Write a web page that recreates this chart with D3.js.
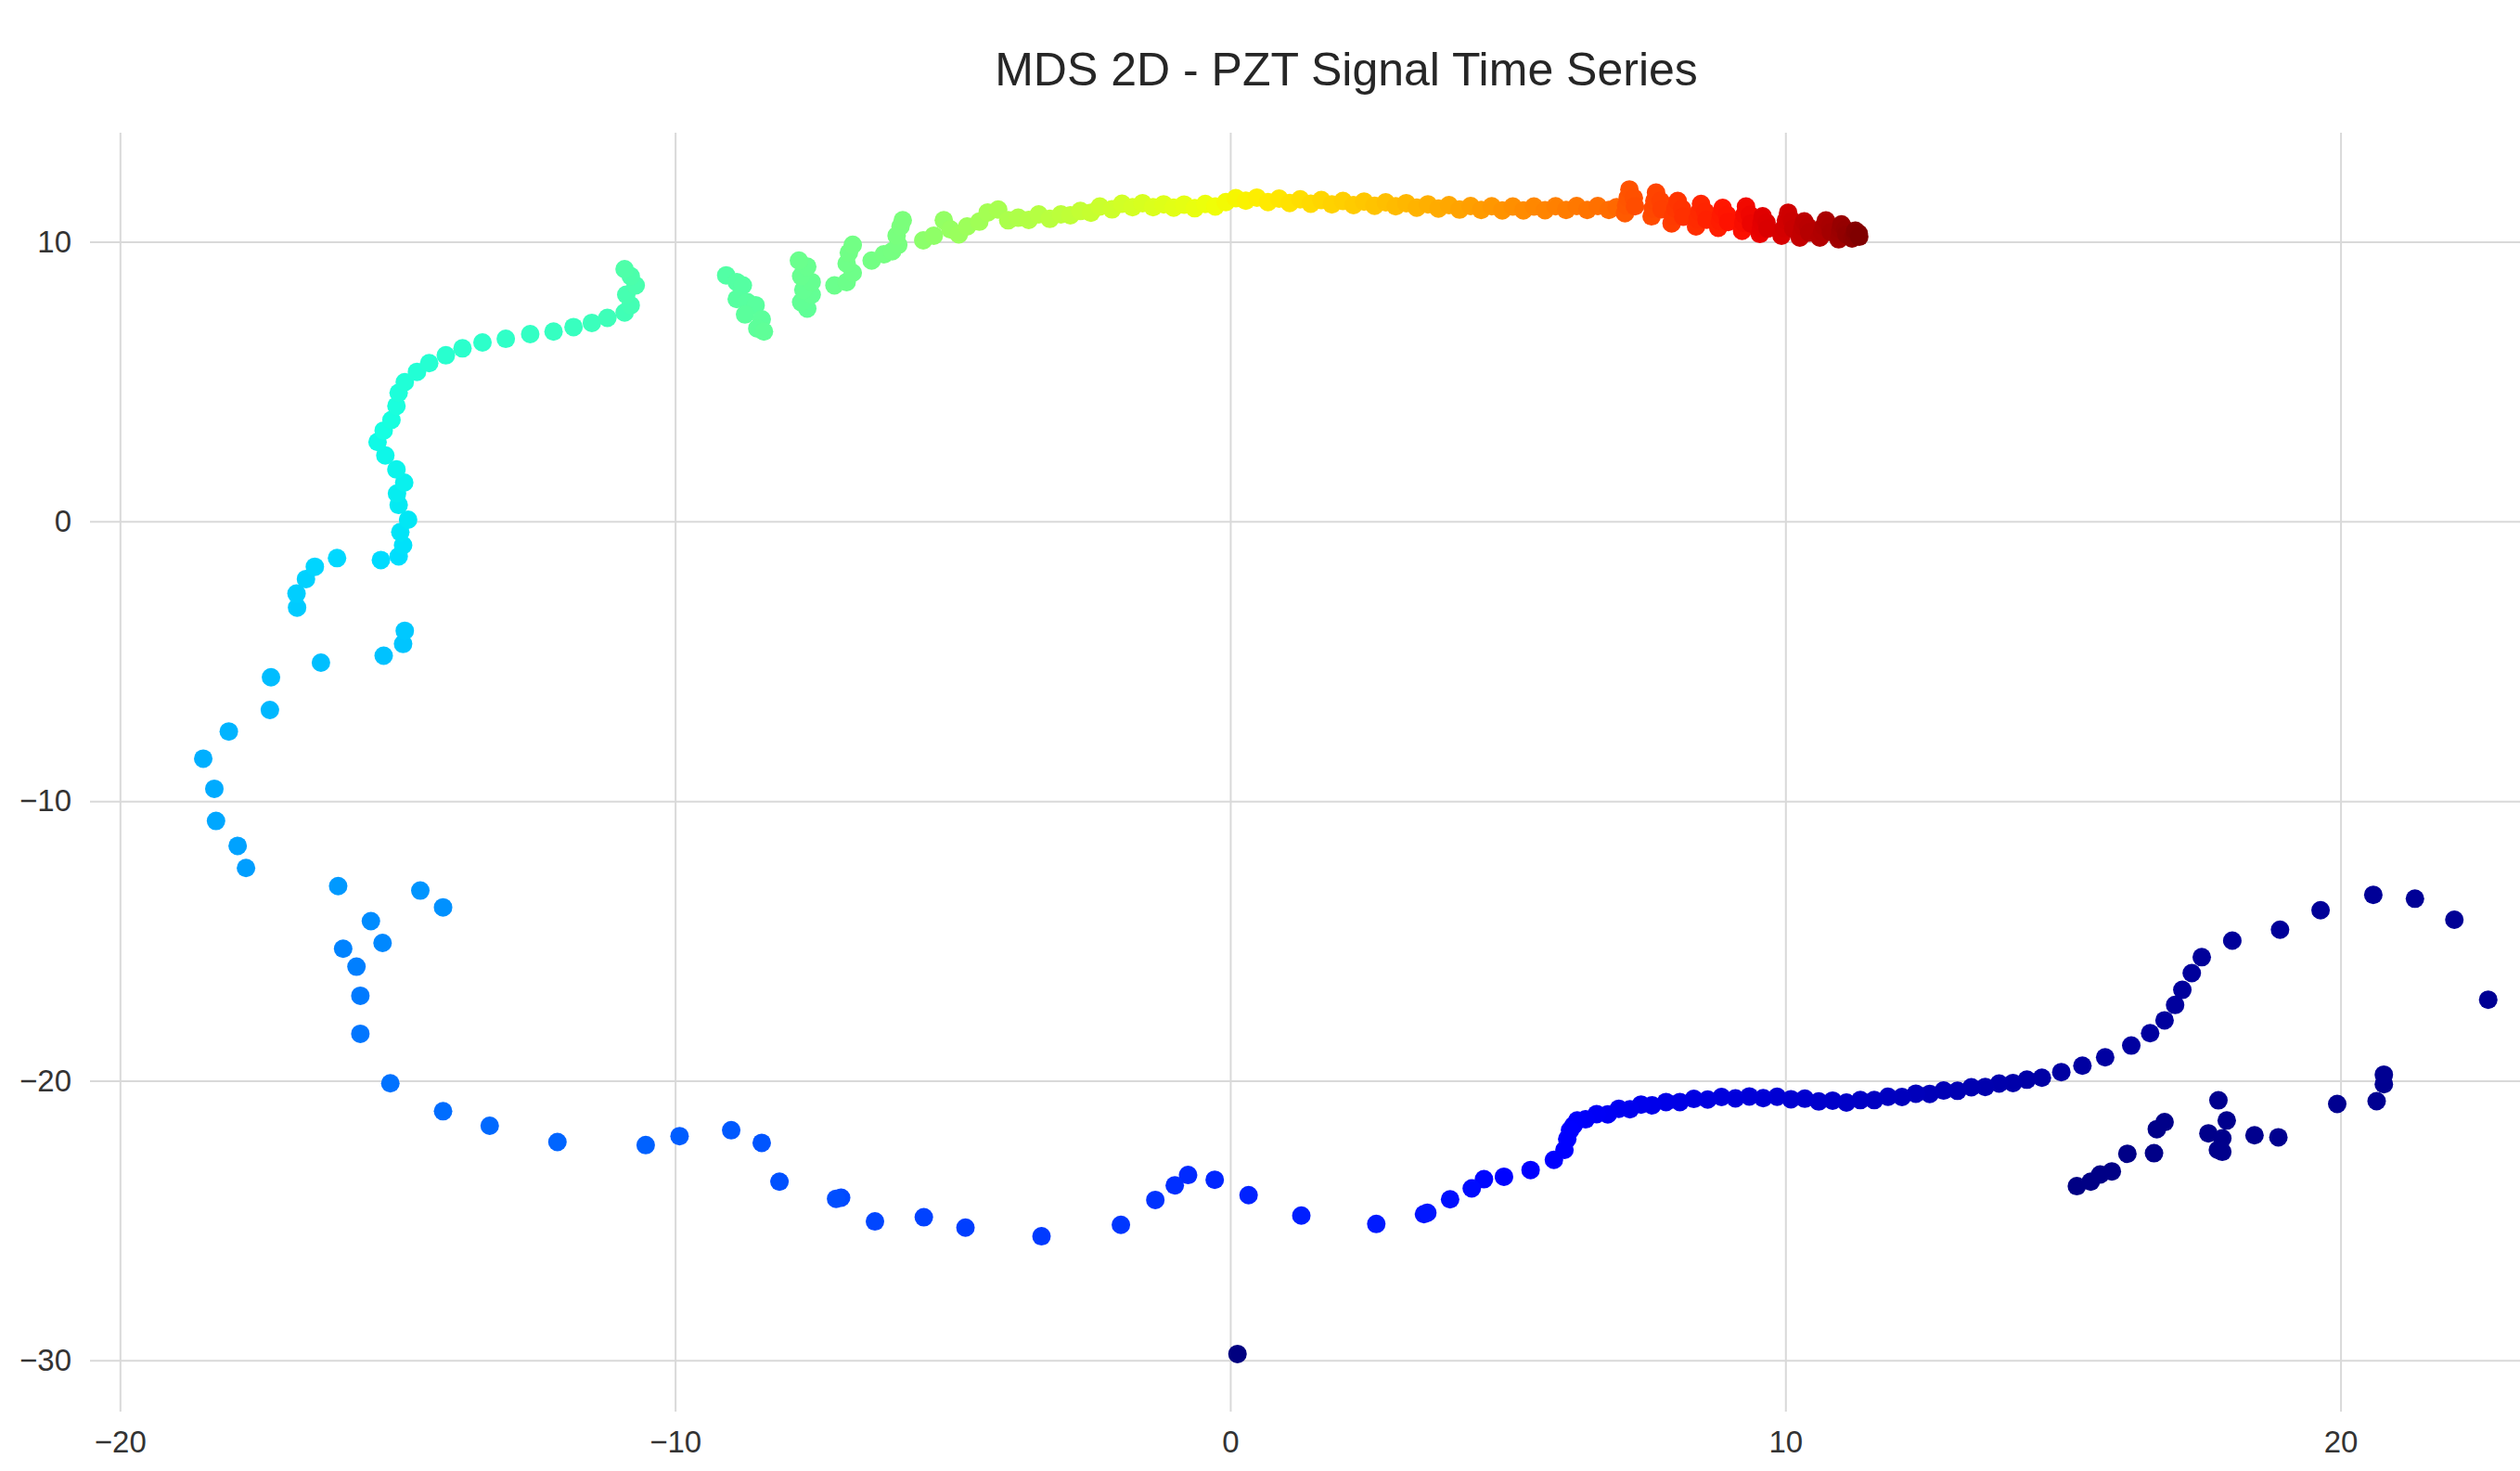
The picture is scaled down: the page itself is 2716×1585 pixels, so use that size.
<!DOCTYPE html>
<html><head><meta charset="utf-8">
<script src="https://cdn.jsdelivr.net/npm/d3@7"></script>
<style>body{margin:0;background:#fff}svg{display:block}</style>
</head><body>
<script>
// ---------------- data ----------------
const chartTitle = "MDS 2D - PZT Signal Time Series";
const xTicks = [-20, -10, 0, 10, 20];
const yTicks = [-30, -20, -10, 0, 10];

// MDS coordinates, in time order, grouped into stretches of the trajectory
const outlier = [[0.13,-29.77]];
const lowerRight = [[15.25,-23.77],[15.50,-23.61],[15.67,-23.35],[15.88,-23.24],[16.16,-22.61],[16.64,-22.59],[16.69,-21.73],[16.83,-21.48],[17.62,-21.88],[17.87,-22.06],[17.79,-22.47],[17.87,-22.54],[17.95,-21.42],[17.80,-20.70],[18.45,-21.95],[18.88,-22.02],[19.94,-20.83],[20.65,-20.73],[20.78,-20.12],[20.78,-19.78]];
const rightArc = [[22.66,-17.10],[22.05,-14.24],[21.34,-13.49],[20.59,-13.35],[19.64,-13.90],[18.91,-14.60],[18.05,-14.99],[17.50,-15.58],[17.32,-16.15],[17.15,-16.75],[17.02,-17.29],[16.83,-17.84],[16.57,-18.30],[16.23,-18.74],[15.76,-19.16],[15.35,-19.46],[14.97,-19.69]];
const band = [[14.62,-19.89],[14.35,-19.96],[14.10,-20.08],[13.85,-20.10],[13.60,-20.22],[13.35,-20.23],[13.10,-20.36],[12.85,-20.35],[12.60,-20.47],[12.35,-20.46],[12.10,-20.58],[11.85,-20.57],[11.60,-20.69],[11.35,-20.69],[11.10,-20.78],[10.85,-20.71],[10.60,-20.74],[10.35,-20.64],[10.10,-20.66],[9.85,-20.57],[9.60,-20.62],[9.35,-20.56],[9.10,-20.63],[8.85,-20.58],[8.60,-20.67],[8.35,-20.65],[8.10,-20.76],[7.85,-20.76],[7.60,-20.88],[7.40,-20.85],[7.20,-21.02],[7.00,-21.00],[6.80,-21.20],[6.60,-21.19],[6.40,-21.38],[6.25,-21.42],[6.18,-21.60],[6.12,-21.77],[6.07,-22.08],[6.02,-22.47]];
const bottom = [[5.83,-22.83],[5.41,-23.19],[4.93,-23.43],[4.57,-23.52],[4.35,-23.85],[3.96,-24.24],[3.49,-24.77],[3.55,-24.72],[2.63,-25.12],[1.28,-24.82],[0.33,-24.09],[-0.28,-23.54],[-0.76,-23.37],[-1.00,-23.74],[-1.35,-24.26],[-1.97,-25.15],[-3.40,-25.56],[-4.77,-25.25],[-5.52,-24.88],[-6.40,-25.03],[-7.01,-24.18],[-7.10,-24.22],[-8.12,-23.61],[-8.44,-22.22],[-8.99,-21.77],[-9.92,-21.98],[-10.53,-22.30],[-12.12,-22.19],[-13.34,-21.61]];
const lowerLeft = [[-14.18,-21.09],[-15.13,-20.09],[-15.67,-18.32],[-15.67,-16.96],[-15.74,-15.92],[-15.98,-15.28],[-15.27,-15.07],[-15.48,-14.29],[-14.18,-13.80],[-14.59,-13.20],[-16.07,-13.04],[-17.73,-12.39],[-17.88,-11.60],[-18.27,-10.71],[-18.30,-9.56],[-18.50,-8.48],[-18.04,-7.51],[-17.30,-6.74],[-17.28,-5.57]];
const leftMid = [[-16.38,-5.05],[-15.25,-4.80],[-14.90,-4.38],[-14.87,-3.91],[-16.81,-3.08],[-16.82,-2.58],[-16.65,-2.06],[-16.49,-1.62],[-16.09,-1.31],[-15.30,-1.38],[-14.98,-1.25],[-14.90,-0.85],[-14.95,-0.38],[-14.81,0.06],[-14.98,0.59],[-15.01,1.00],[-14.88,1.39],[-15.02,1.86],[-15.22,2.36],[-15.36,2.84]];
const leftUpper = [[-15.25,3.25],[-15.11,3.63],[-15.02,4.13],[-14.98,4.60],[-14.87,4.98],[-14.65,5.35],[-14.43,5.66],[-14.13,5.94],[-13.83,6.19],[-13.47,6.40],[-13.05,6.53],[-12.61,6.70],[-12.19,6.79],[-11.83,6.95],[-11.50,7.10],[-11.22,7.28],[-10.91,7.47],[-10.80,7.73],[-10.88,8.11],[-10.71,8.44],[-10.80,8.77],[-10.91,9.02]];
const greenClusters = [[-9.08,8.80],[-8.89,8.56],[-8.78,8.44],[-8.89,7.95],[-8.70,7.84],[-8.55,7.73],[-8.74,7.40],[-8.44,7.23],[-8.52,6.90],[-8.40,6.79],
  [-7.62,7.61],[-7.73,7.84],[-7.54,8.11],[-7.69,8.28],[-7.54,8.56],[-7.73,8.77],[-7.62,9.11],[-7.77,9.33],
  [-7.13,8.44],[-6.91,8.56],[-6.80,8.89],[-6.91,9.22],[-6.87,9.61],[-6.80,9.89],
  [-6.46,9.33],[-6.24,9.55],[-6.09,9.66],[-5.98,9.89],[-6.01,10.22],[-5.94,10.55],[-5.90,10.77]];
const topArc = [[-5.53,10.05],[-5.34,10.22],[-5.16,10.77],[-5.04,10.44],[-4.89,10.27],[-4.74,10.55],[-4.52,10.72],[-4.37,11.05],[-4.18,11.15],[-4.00,10.77],[-3.82,10.86],[-3.63,10.78],[-3.45,10.98],[-3.25,10.82],[-3.05,10.98],[-2.88,10.95],[-2.70,11.10],[-2.51,11.04],[-2.35,11.26],[-2.13,11.16],[-1.95,11.36],[-1.76,11.24],[-1.58,11.38],[-1.39,11.24],[-1.20,11.34],[-1.02,11.22],[-0.83,11.33],[-0.64,11.20],[-0.45,11.35],[-0.27,11.26],
  [-0.08,11.42],[0.10,11.56],[0.28,11.47],[0.48,11.58],[0.68,11.42],[0.88,11.54],[1.07,11.39],[1.26,11.52],[1.45,11.36],[1.64,11.49],[1.83,11.34],[2.03,11.46],[2.22,11.31],[2.41,11.44],[2.60,11.29],[2.80,11.41],[2.98,11.27],[3.17,11.38],[3.36,11.22],[3.56,11.34],[3.75,11.19],[3.94,11.31],[4.13,11.15],[4.33,11.28],[4.52,11.14],[4.71,11.27],[4.90,11.12],[5.09,11.26],[5.28,11.12],[5.47,11.26],[5.67,11.13],[5.86,11.27],[6.05,11.14],[6.24,11.28],[6.43,11.14],[6.62,11.28],[6.82,11.14],[6.96,11.24]];
const loops = [[7.11,11.02],[7.13,11.30],[7.16,11.58],[7.19,11.87],[7.27,11.57],[7.29,11.27],
  [7.59,10.91],[7.61,11.19],[7.64,11.47],[7.67,11.76],[7.75,11.46],[7.77,11.16],
  [7.95,10.66],[7.98,10.93],[8.02,11.19],[8.06,11.46],[8.14,11.18],[8.16,10.90],
  [8.39,10.55],[8.42,10.82],[8.45,11.08],[8.48,11.35],[8.56,11.07],[8.58,10.79],
  [8.79,10.50],[8.82,10.74],[8.84,10.97],[8.87,11.21],[8.95,10.96],[8.97,10.71],
  [9.22,10.39],[9.24,10.68],[9.26,10.97],[9.29,11.26],[9.36,10.96],[9.38,10.65],
  [9.54,10.28],[9.56,10.49],[9.57,10.70],[9.59,10.91],[9.66,10.69],[9.68,10.47],
  [9.93,10.22],[9.97,10.49],[10.01,10.77],[10.05,11.04],[10.12,10.75],[10.14,10.47],
  [10.26,10.15],[10.29,10.34],[10.31,10.54],[10.34,10.73],[10.41,10.53],[10.43,10.33],
  [10.62,10.15],[10.66,10.35],[10.69,10.56],[10.73,10.76],[10.80,10.55],[10.82,10.34],
  [10.96,10.09],[10.98,10.27],[10.99,10.44],[11.01,10.62],[11.08,10.44],[11.10,10.26],
  [11.20,10.12],[11.24,10.22],[11.26,10.32],[11.26,10.40],[11.32,10.30],[11.33,10.18]];

// normalised time (colour value) at the start and end of each stretch
const stretches = [outlier, lowerRight, rightArc, band, bottom, lowerLeft, leftMid, leftUpper, greenClusters, topArc, loops];
const stretchTime = [[0.0,0.0],[0.004,0.016],[0.018,0.03],[0.032,0.115],[0.12,0.228],[0.232,0.31],[0.312,0.37],[0.375,0.445],[0.45,0.50],[0.52,0.80],[0.815,1.0]];

// ---------------- chart ----------------
const W = 2716, H = 1585;
const plot = {left: 97, right: 2805, top: 143, bottom: 1521};
const x = d3.scaleLinear().domain([-20.54, 24.72]).range([plot.left, plot.right]);
const y = d3.scaleLinear().domain([-31.83, 13.9]).range([plot.bottom, plot.top]);

// matplotlib "jet"
const jR = d3.scaleLinear().domain([0,0.35,0.66,0.89,1]).range([0,0,1,1,0.5]).clamp(true);
const jG = d3.scaleLinear().domain([0,0.125,0.375,0.64,0.91,1]).range([0,0,1,1,0,0]).clamp(true);
const jB = d3.scaleLinear().domain([0,0.11,0.34,0.65,1]).range([0.5,1,1,0,0]).clamp(true);
const jet = t => d3.rgb(jR(t)*255, jG(t)*255, jB(t)*255).formatHex();

const points = [];
stretches.forEach((pts, s) => {
  const [t0, t1] = stretchTime[s];
  pts.forEach((p, i) => {
    const t = pts.length > 1 ? t0 + (t1 - t0) * i / (pts.length - 1) : t0;
    points.push({x: p[0], y: p[1], t});
  });
});

const svg = d3.select("body").append("svg").attr("width", W).attr("height", H)
  .style("font-family", "'Liberation Sans', Arial, sans-serif");
svg.append("rect").attr("width", W).attr("height", H).attr("fill", "#fff");

const gx = svg.append("g").attr("transform", `translate(0,${plot.bottom})`)
  .call(d3.axisBottom(x).tickValues(xTicks).tickSize(-(plot.bottom - plot.top)).tickPadding(21));
const gy = svg.append("g").attr("transform", `translate(${plot.left},0)`)
  .call(d3.axisLeft(y).tickValues(yTicks).tickSize(-(plot.right - plot.left)).tickPadding(20));
[gx, gy].forEach(g => {
  g.select(".domain").remove();
  g.selectAll(".tick line").attr("stroke", "#d9d9d9").attr("stroke-width", 2);
  g.selectAll(".tick text").attr("fill", "#333").style("font-size", "33px");
});

svg.append("g").selectAll("circle").data(points).join("circle")
  .attr("cx", d => x(d.x)).attr("cy", d => y(d.y)).attr("r", 10)
  .attr("fill", d => jet(d.t));

svg.append("text").attr("x", (plot.left + plot.right) / 2).attr("y", 92)
  .attr("text-anchor", "middle").attr("fill", "#262626").style("font-size", "50px")
  .text(chartTitle);
</script>
</body></html>
